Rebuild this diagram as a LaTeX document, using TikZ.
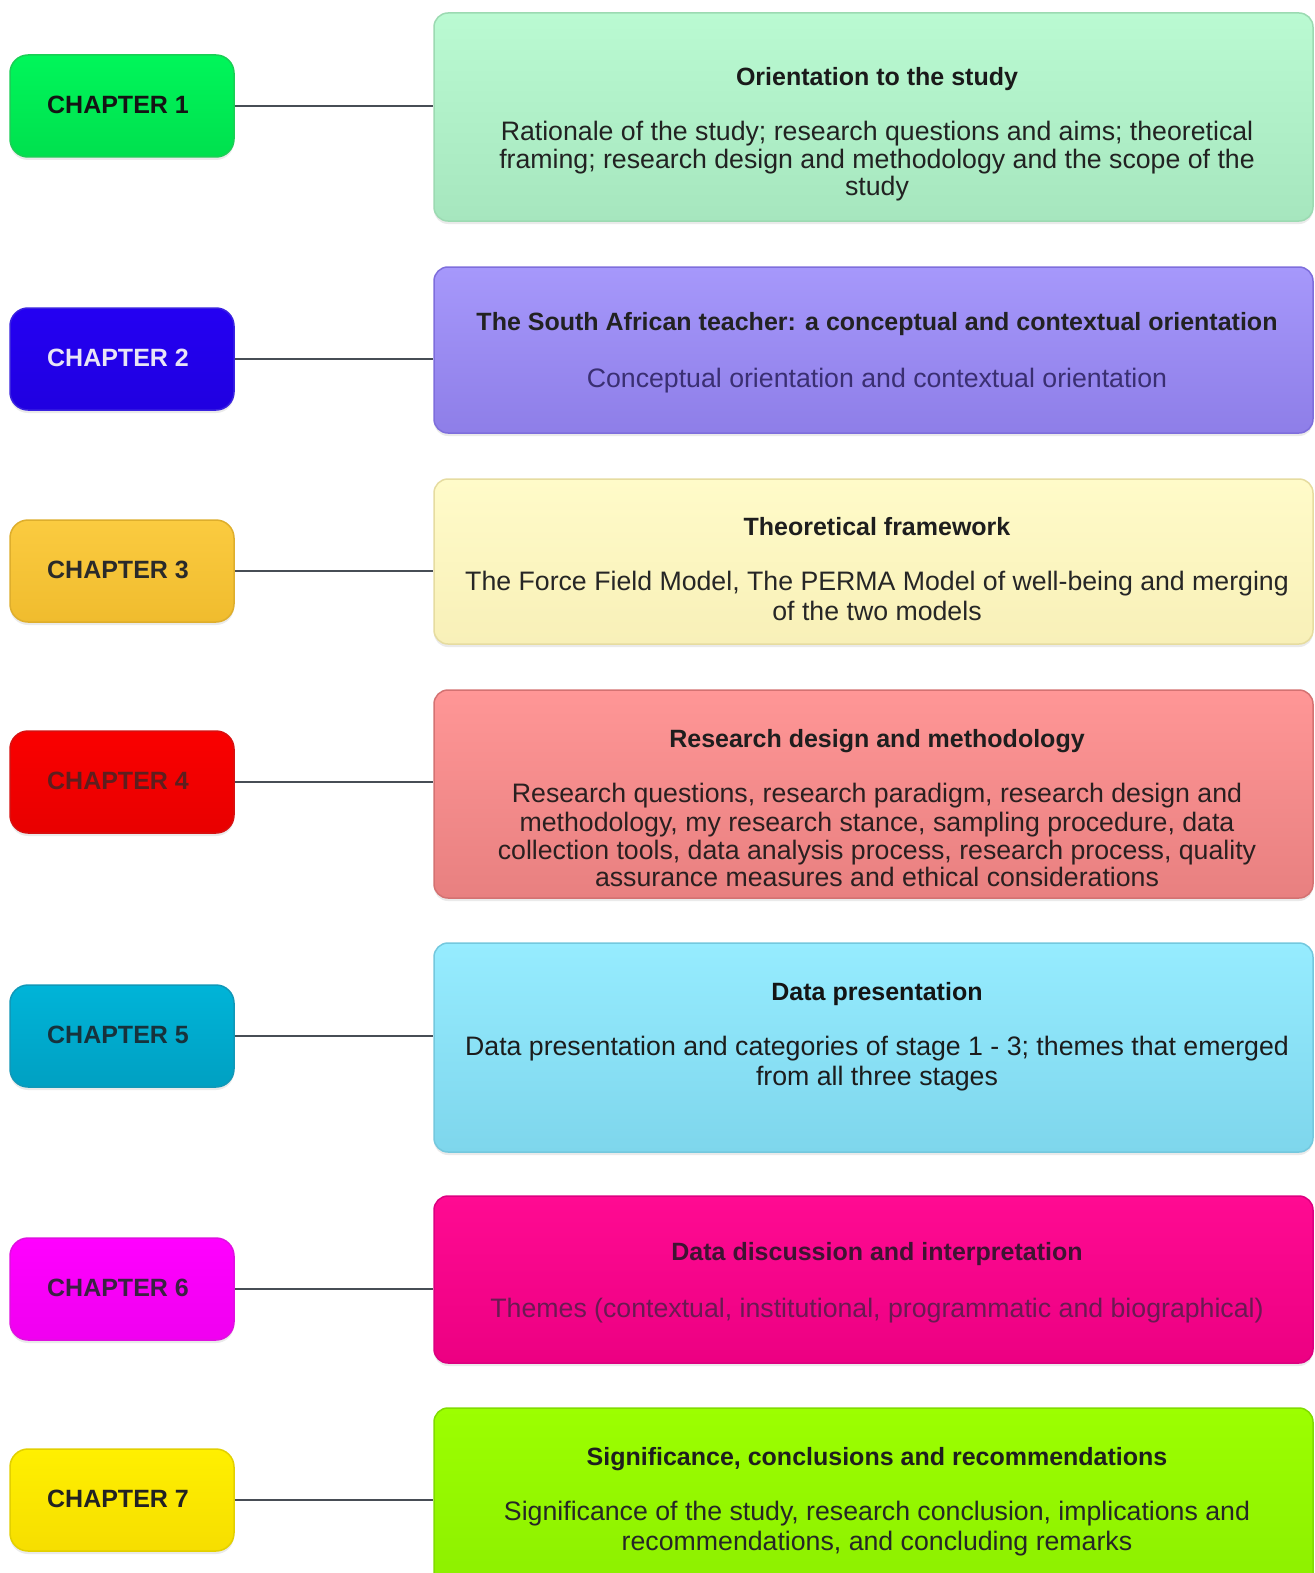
\documentclass[tikz,border=0pt]{standalone}
\usepackage{fontspec}
\setmainfont{Liberation Sans}
\usetikzlibrary{shadows}

% chapter tab colours: top, bottom, border, text
\definecolor{ca1}{HTML}{00F65A}\definecolor{cb1}{HTML}{00E04E}\definecolor{cd1}{HTML}{1ACF55}\definecolor{ct1}{HTML}{141414}
\definecolor{ca2}{HTML}{2400F2}\definecolor{cb2}{HTML}{2000E0}\definecolor{cd2}{HTML}{3A22E0}\definecolor{ct2}{HTML}{E8E4F6}
\definecolor{ca3}{HTML}{FBCB40}\definecolor{cb3}{HTML}{F0BC2E}\definecolor{cd3}{HTML}{DEAE2C}\definecolor{ct3}{HTML}{2A2A2A}
\definecolor{ca4}{HTML}{FA0000}\definecolor{cb4}{HTML}{E80000}\definecolor{cd4}{HTML}{D81010}\definecolor{ct4}{HTML}{5E1E1E}
\definecolor{ca5}{HTML}{00B4D8}\definecolor{cb5}{HTML}{00A0C2}\definecolor{cd5}{HTML}{1098B8}\definecolor{ct5}{HTML}{17323C}
\definecolor{ca6}{HTML}{FF00FF}\definecolor{cb6}{HTML}{F000F0}\definecolor{cd6}{HTML}{E010E0}\definecolor{ct6}{HTML}{3A2242}
\definecolor{ca7}{HTML}{FFF000}\definecolor{cb7}{HTML}{F6DE00}\definecolor{cd7}{HTML}{E2D000}\definecolor{ct7}{HTML}{222222}
% content panel colours: top, bottom, border, heading, body
\definecolor{pa1}{HTML}{BAFAD2}\definecolor{pb1}{HTML}{A6E6BE}\definecolor{pd1}{HTML}{9CDAB2}\definecolor{ph1}{HTML}{1A1A1A}\definecolor{pt1}{HTML}{222222}
\definecolor{pa2}{HTML}{A698FB}\definecolor{pb2}{HTML}{8E7EE8}\definecolor{pd2}{HTML}{7E6EDC}\definecolor{ph2}{HTML}{222222}\definecolor{pt2}{HTML}{3A2F72}
\definecolor{pa3}{HTML}{FFFBC9}\definecolor{pb3}{HTML}{F8F0B8}\definecolor{pd3}{HTML}{E6DCA0}\definecolor{ph3}{HTML}{1E1E1E}\definecolor{pt3}{HTML}{262626}
\definecolor{pa4}{HTML}{FF9696}\definecolor{pb4}{HTML}{E88080}\definecolor{pd4}{HTML}{D47272}\definecolor{ph4}{HTML}{1E1E1E}\definecolor{pt4}{HTML}{2A2020}
\definecolor{pa5}{HTML}{96ECFF}\definecolor{pb5}{HTML}{7ED6EC}\definecolor{pd5}{HTML}{74C8DE}\definecolor{ph5}{HTML}{141414}\definecolor{pt5}{HTML}{1C1C1C}
\definecolor{pa6}{HTML}{FF0A92}\definecolor{pb6}{HTML}{EC0082}\definecolor{pd6}{HTML}{DC0080}\definecolor{ph6}{HTML}{3E1432}\definecolor{pt6}{HTML}{6A1A52}
\definecolor{pa7}{HTML}{9CFF00}\definecolor{pb7}{HTML}{8CEE00}\definecolor{pd7}{HTML}{80DC00}\definecolor{ph7}{HTML}{1E1E1E}\definecolor{pt7}{HTML}{262626}
\definecolor{wire}{HTML}{474D55}

\begin{document}
\begin{tikzpicture}[x=1pt,y=-1pt,
  chap/.style={rounded corners=18pt, minimum width=224pt, minimum height=102pt,
    line width=1.5pt, inner sep=0pt, text height=17.5pt, text depth=3pt,
    font=\fontsize{25}{28}\selectfont\bfseries, execute at begin node={\kern-8pt},
    draw=cd#1, top color=ca#1, bottom color=cb#1, text=ct#1,
    drop shadow={opacity=0.16, shadow xshift=0pt, shadow yshift=-3pt}},
  panel/.style={rounded corners=14pt, minimum width=879pt, line width=1.5pt,
    inner sep=0pt, draw=pd#1, top color=pa#1, bottom color=pb#1,
    drop shadow={opacity=0.16, shadow xshift=0pt, shadow yshift=-3pt}},
  heading/.style={inner sep=0pt, text height=18pt, text depth=0pt,
    font=\fontsize{25}{28}\selectfont\bfseries, text=ph#1},
  bodyline/.style={inner sep=0pt, text height=19pt, text depth=0pt,
    font=\fontsize{26.7}{28}\selectfont, text=pt#1},
  wire/.style={draw=wire, line width=2.5pt}
]
\useasboundingbox (0,0) rectangle (1314,1573);
\clip (0,0) rectangle (1314,1573);
\fill[white] (0,0) rectangle (1314,1573);

% chapter tabs
\node[chap=1] (ch1) at (122,106)  {CHAPTER 1};
\node[chap=2] (ch2) at (122,359)  {CHAPTER 2};
\node[chap=3] (ch3) at (122,571)  {CHAPTER 3};
\node[chap=4] (ch4) at (122,782)  {CHAPTER 4};
\node[chap=5] (ch5) at (122,1036) {CHAPTER 5};
\node[chap=6] (ch6) at (122,1289) {CHAPTER 6};
\node[chap=7] (ch7) at (122,1500) {CHAPTER 7};

% content panels
\node[panel=1, minimum height=208pt] (p1) at (873.5,117)    {};
\node[panel=2, minimum height=166pt] (p2) at (873.5,350)    {};
\node[panel=3, minimum height=165pt] (p3) at (873.5,561.5)  {};
\node[panel=4, minimum height=208pt] (p4) at (873.5,794)    {};
\node[panel=5, minimum height=209pt] (p5) at (873.5,1047.5) {};
\node[panel=6, minimum height=167pt] (p6) at (873.5,1279.5) {};
\node[panel=7, minimum height=192pt] (p7) at (873.5,1504)   {};

% connectors
\foreach \i in {1,...,7}
  \draw[wire] (ch\i.east) -- (ch\i.east -| p\i.west);

% panel texts
\node[heading=1] (h1) at (877,77) {Orientation to the study};
\node[bodyline=1] (b1a) at (877,131) {Rationale of the study; research questions and aims; theoretical};
\node[bodyline=1] (b1b) at (877,159) {framing; research design and methodology and the scope of the};
\node[bodyline=1] (b1c) at (877,186) {study};

\node[heading=2] (h2) at (877,321) {The South African teacher: a conceptual and contextual orientation};
\node[bodyline=2] (b2a) at (877,378) {Conceptual orientation and contextual orientation};

\node[heading=3] (h3) at (877,526) {Theoretical framework};
\node[bodyline=3] (b3a) at (877,581) {The Force Field Model, The PERMA Model of well-being and merging};
\node[bodyline=3] (b3b) at (877,611) {of the two models};

\node[heading=4] (h4) at (877,738) {Research design and methodology};
\node[bodyline=4] (b4a) at (877,793) {Research questions, research paradigm, research design and};
\node[bodyline=4] (b4b) at (877,822) {methodology, my research stance, sampling procedure, data};
\node[bodyline=4] (b4c) at (877,850) {collection tools, data analysis process, research process, quality};
\node[bodyline=4] (b4d) at (877,877) {assurance measures and ethical considerations};

\node[heading=5] (h5) at (877,991) {Data presentation};
\node[bodyline=5] (b5a) at (877,1046) {Data presentation and categories of stage 1 - 3; themes that emerged};
\node[bodyline=5] (b5b) at (877,1076) {from all three stages};

\node[heading=6] (h6) at (877,1251) {Data discussion and interpretation};
\node[bodyline=6] (b6a) at (877,1308) {Themes (contextual, institutional, programmatic and biographical)};

\node[heading=7] (h7) at (877,1456) {Significance, conclusions and recommendations};
\node[bodyline=7] (b7a) at (877,1511) {Significance of the study, research conclusion, implications and};
\node[bodyline=7] (b7b) at (877,1541) {recommendations, and concluding remarks};
\end{tikzpicture}
\end{document}
